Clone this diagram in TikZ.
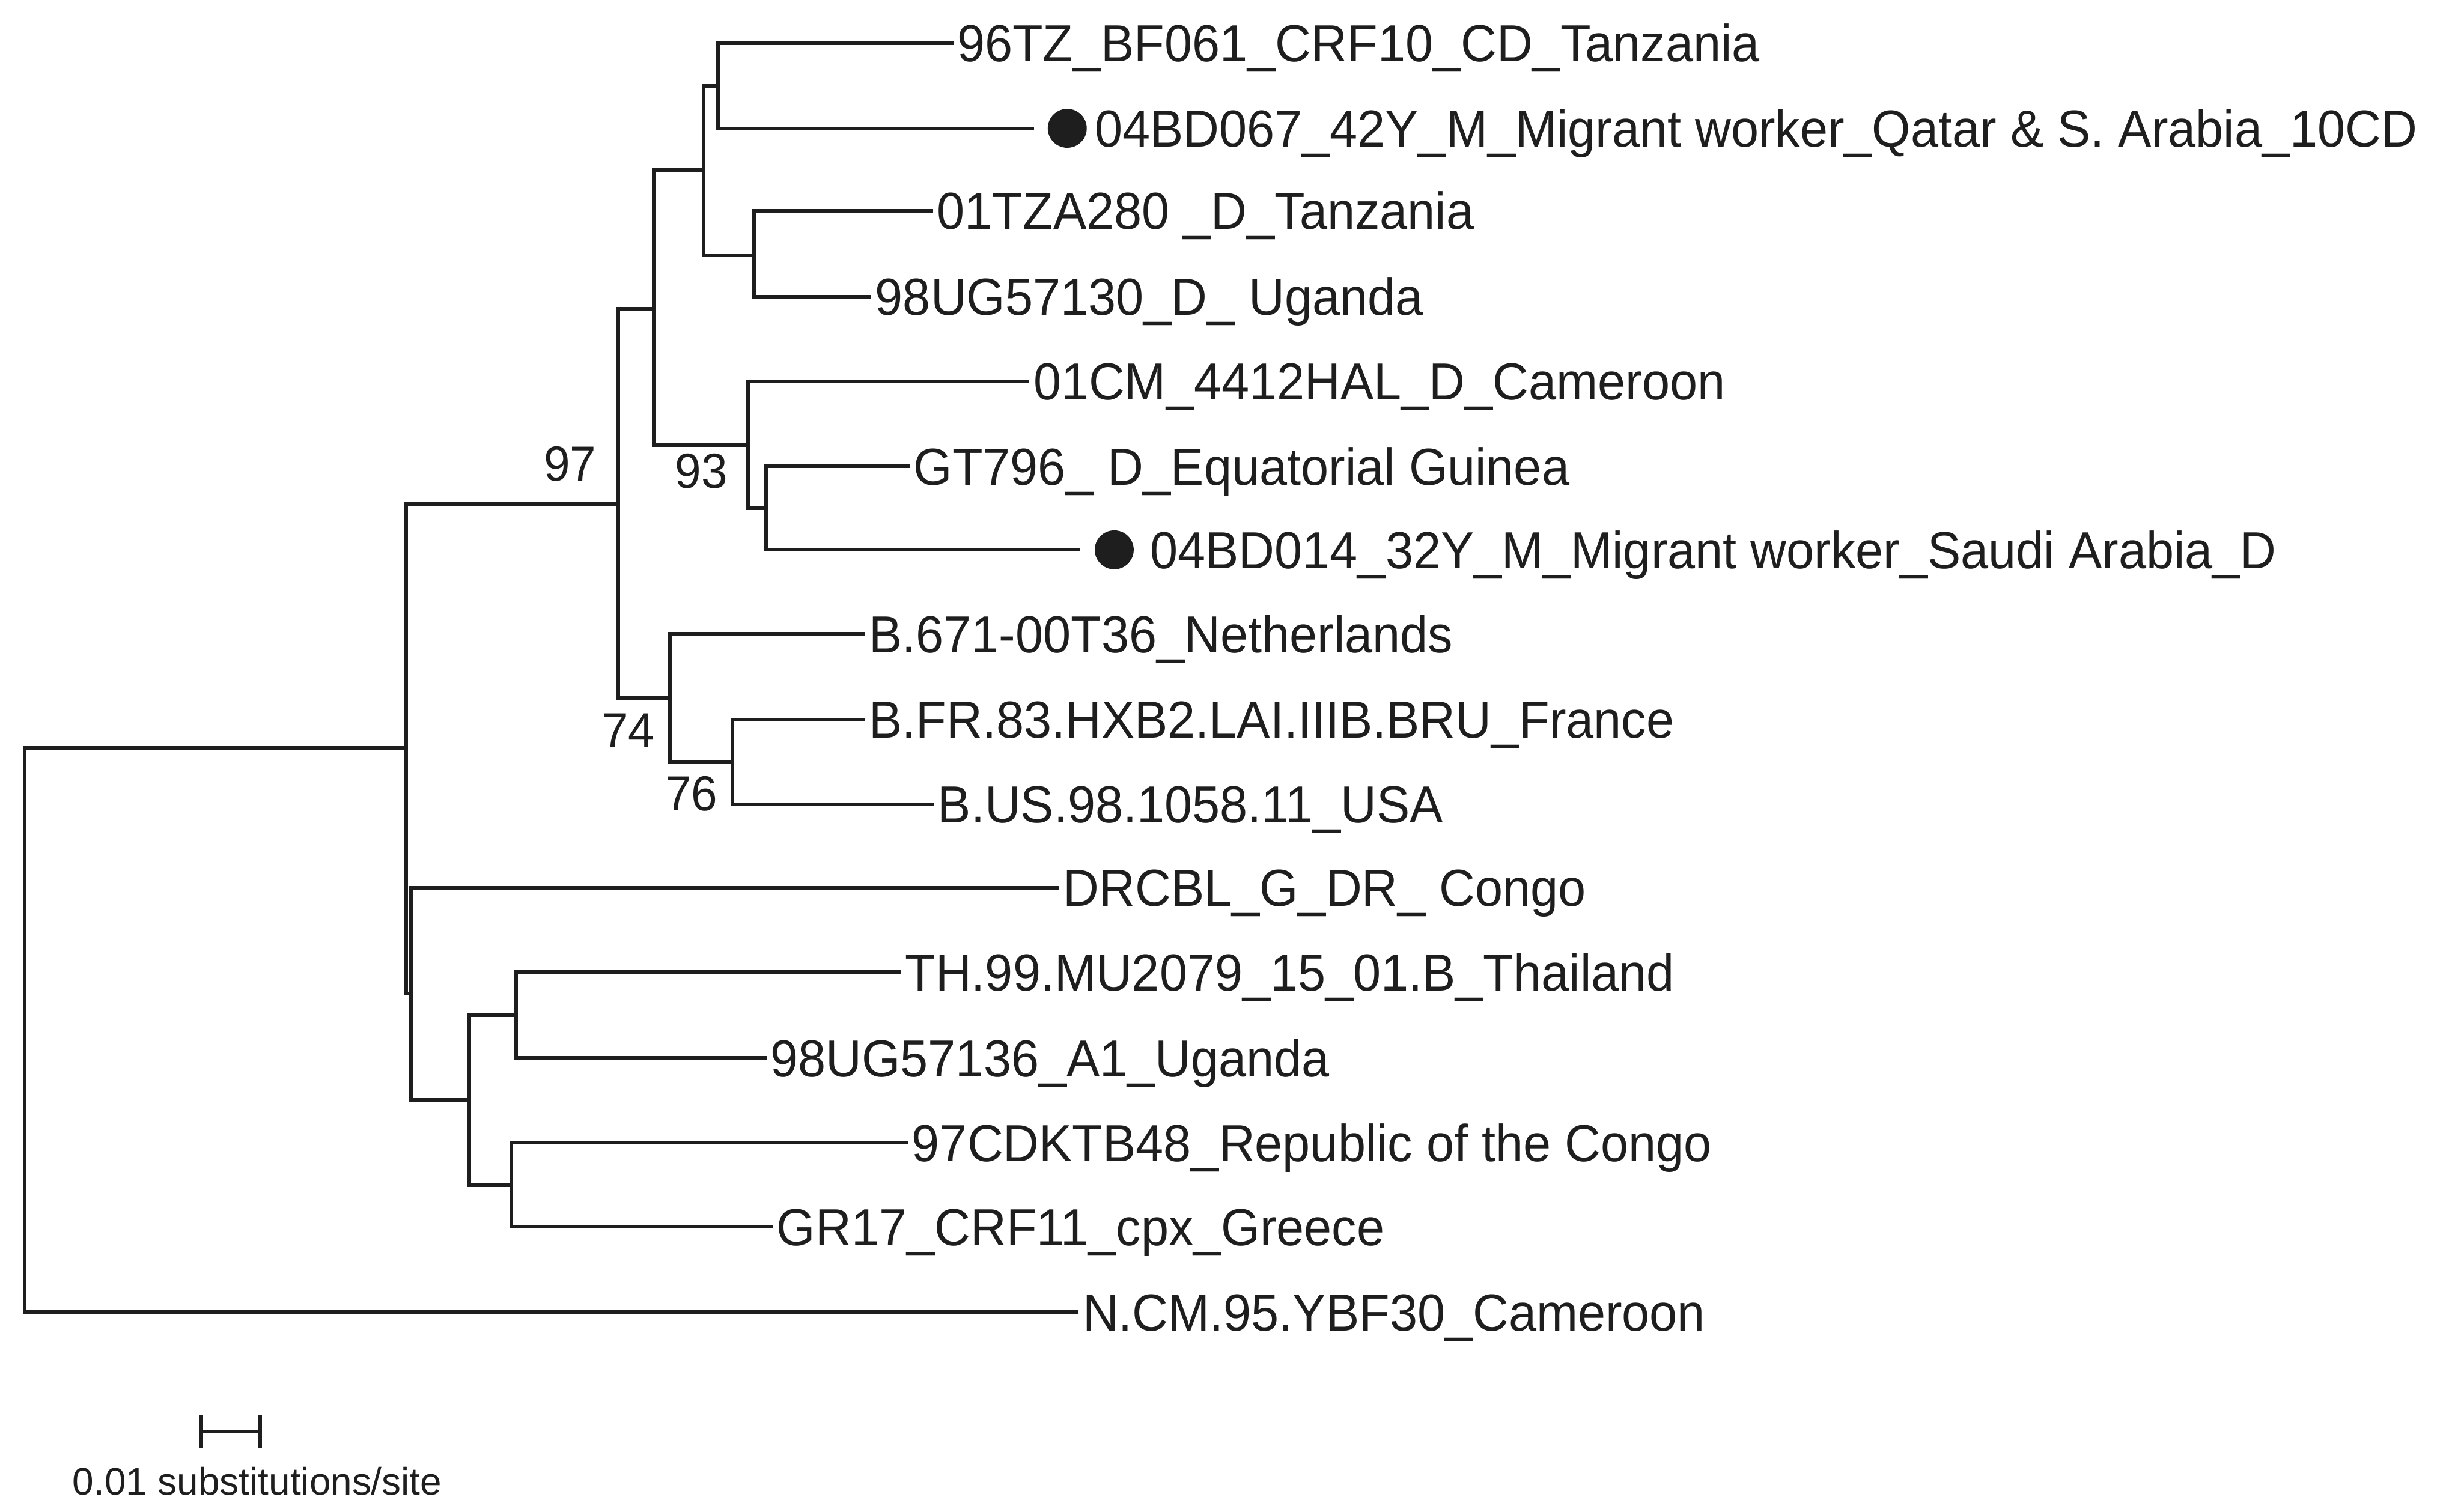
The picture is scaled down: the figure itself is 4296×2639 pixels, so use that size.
\documentclass[tikz,border=0pt]{standalone}
\usepackage{fontspec}
\setmainfont{Liberation Sans}
\definecolor{ink}{HTML}{1E1E1E}
\newcommand{\cond}[1]{\scalebox{0.955}[1]{#1}}
\begin{document}
\begin{tikzpicture}[x=0.1pt,y=-0.1pt,
  br/.style={line width=0.63pt, draw=ink, line join=miter},
  leaf/.style={anchor=west, inner xsep=0.5pt, inner ysep=0pt, text height=6.5pt, text depth=0pt,
    font=\fontsize{9.1}{11}\selectfont, text=ink},
  boot/.style={inner sep=0pt, font=\fontsize{8.6}{10}\selectfont, text=ink},
  dotn/.style={circle, fill=ink, minimum size=6.8pt, inner sep=0pt}]
\fill[white] (0,0) rectangle (4296,2639);
\useasboundingbox (0,0) rectangle (4296,2639);
% internal nodes
\coordinate (R) at (43,1798);
\coordinate (J) at (709,1306);
\coordinate (G) at (1079,880);
\coordinate (D) at (1141,539);
\coordinate (B) at (1228,297);
\coordinate (A) at (1253,150);
\coordinate (C) at (1316,446);
\coordinate (E) at (1306,777);
\coordinate (F) at (1337,887);
\coordinate (H) at (1169,1219);
\coordinate (I) at (1278,1330);
\coordinate (K) at (717,1735);
\coordinate (L) at (819,1920);
\coordinate (M) at (901,1772);
\coordinate (N) at (893,2069);
% leaves
\node[leaf] (l1) at (1664,75) {\cond{96TZ\_BF061\_CRF10\_CD\_Tanzania}};
\coordinate (e2) at (1805,224);
\node[dotn] (d2) at (1863,224) {};
\node[leaf] (l2) at (1904,224) {\cond{04BD067\_42Y\_M\_Migrant worker\_Qatar \& S. Arabia\_10CD}};
\node[leaf] (l3) at (1629,368) {\cond{01TZA280 \_D\_Tanzania}};
\node[leaf] (l4) at (1521,518) {\cond{98UG57130\_D\_ Uganda}};
\node[leaf] (l5) at (1797,666) {\cond{01CM\_4412HAL\_D\_Cameroon}};
\node[leaf] (l6) at (1588,814) {\cond{GT796\_ D\_Equatorial Guinea}};
\coordinate (e7) at (1886,960);
\node[dotn] (d7) at (1945,960) {};
\node[leaf] (l7) at (2001,960) {\cond{04BD014\_32Y\_M\_Migrant worker\_Saudi Arabia\_D}};
\node[leaf] (l8) at (1510,1107) {\cond{B.671-00T36\_Netherlands}};
\node[leaf] (l9) at (1510,1256) {\cond{B.FR.83.HXB2.LAI.IIIB.BRU\_France}};
\node[leaf] (l10) at (1630,1404) {\cond{B.US.98.1058.11\_USA}};
\node[leaf] (l11) at (1849,1550) {\cond{DRCBL\_G\_DR\_ Congo}};
\node[leaf] (l12) at (1573,1697) {\cond{TH.99.MU2079\_15\_01.B\_Thailand}};
\node[leaf] (l13) at (1338,1847) {\cond{98UG57136\_A1\_Uganda}};
\node[leaf] (l14) at (1585,1995) {\cond{97CDKTB48\_Republic of the Congo}};
\node[leaf] (l15) at (1349,2142) {\cond{GR17\_CRF11\_cpx\_Greece}};
\node[leaf] (l16) at (1883,2291) {\cond{N.CM.95.YBF30\_Cameroon}};
% branches
\foreach \p/\c in {R/J, J/G, J/K, G/D, G/H, D/B, D/E, B/A, B/C, E/F, H/I, K/L, L/M, L/N, A/e2, F/e7}
  \draw[br] (\p) |- (\c);
\foreach \p/\c in {R/l16, A/l1, C/l3, C/l4, E/l5, F/l6, H/l8, I/l9, I/l10, K/l11, M/l12, M/l13, N/l14, N/l15}
  \draw[br] (\p) |- (\c.west);
% bootstrap values
\node[boot] (b97) at (995,810) {\cond{97}};
\node[boot] (b93) at (1224,823) {\cond{93}};
\node[boot] (b74) at (1097,1276) {\cond{74}};
\node[boot] (b76) at (1207,1386) {\cond{76}};
% scale bar
\coordinate (s1) at (351,2499);
\coordinate (s2) at (454,2499);
\draw[br] (s1) -- (s2);
\draw[br] (351,2471) -- (351,2528);
\draw[br] (454,2471) -- (454,2528);
\node[inner sep=0pt, font=\fontsize{6.7}{8}\selectfont, text=ink] (sl) at (449,2586) {0.01 substitutions/site};
\end{tikzpicture}
\end{document}
